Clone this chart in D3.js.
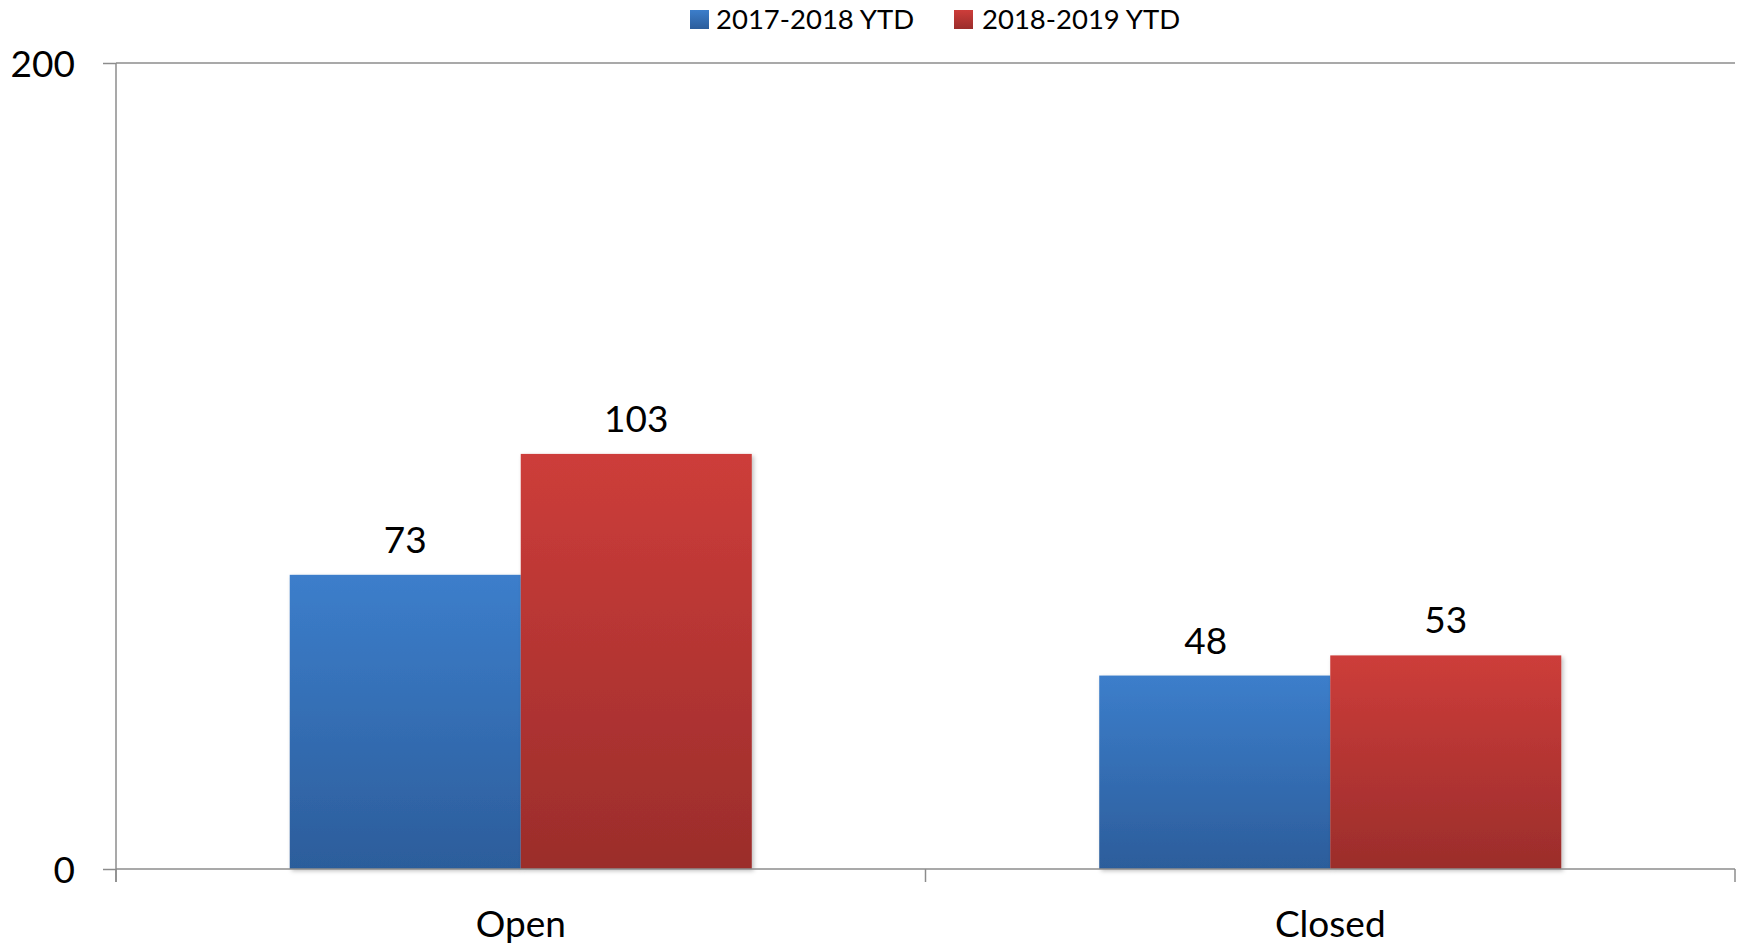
<!DOCTYPE html>
<html><head><meta charset="utf-8">
<script src="https://cdn.jsdelivr.net/npm/d3@7"></script>
<style>body{margin:0;background:#fff}svg{display:block}text{font-family:Lato,"Open Sans",sans-serif;fill:#000}</style>
</head><body>
<svg id="c" width="1740" height="945"></svg>
<script>
const categories = ["Open", "Closed"];
const seriesNames = ["2017-2018 YTD", "2018-2019 YTD"];
const values2017 = [73, 48];
const values2018 = [103, 53];
const yTicks = [0, 200];

const seriesValues = [values2017, values2018];
const colors = [["#3C7ECB", "#2C5D9B"], ["#CD3D3A", "#9B2D2B"]];

const svg = d3.select("#c");
const pLeft = 116, pRight = 1735, pTop = 63, pBottom = 869;

const defs = svg.append("defs");
colors.forEach((c, i) => {
  const g = defs.append("linearGradient").attr("id", "g" + i).attr("x1", 0).attr("y1", 0).attr("x2", 0).attr("y2", 1);
  g.append("stop").attr("offset", "0%").attr("stop-color", c[0]);
  g.append("stop").attr("offset", "100%").attr("stop-color", c[1]);
});
const f = defs.append("filter").attr("id", "sh").attr("x", "-5%").attr("y", "-5%").attr("width", "115%").attr("height", "115%");
f.append("feDropShadow").attr("dx", 2).attr("dy", 2).attr("stdDeviation", 2).attr("flood-color", "#000").attr("flood-opacity", 0.25);

const x0 = d3.scaleBand().domain(categories).range([pLeft, pRight]).padding(0);
const x1 = d3.scaleBand().domain(seriesNames).range([0, x0.bandwidth()]).paddingInner(0).paddingOuter(0.752);
const y = d3.scaleLinear().domain([0, 200]).range([pBottom, pTop]);

// gridline at top
svg.append("line").attr("x1", pLeft).attr("x2", pRight).attr("y1", y(200)).attr("y2", y(200))
  .attr("stroke", "#8c8c8c").attr("stroke-width", 1.5);

// bars
const data = [];
categories.forEach((c, ci) => seriesNames.forEach((s, si) => data.push({c, s, si, v: seriesValues[si][ci]})));
svg.append("g").selectAll("rect").data(data).join("rect")
  .attr("x", d => x0(d.c) + x1(d.s))
  .attr("y", d => y(d.v))
  .attr("width", x1.bandwidth())
  .attr("height", d => y(0) - y(d.v))
  .attr("fill", d => `url(#g${d.si})`)
  .attr("filter", "url(#sh)");

svg.append("g").selectAll("text").data(data).join("text")
  .attr("x", d => x0(d.c) + x1(d.s) + x1.bandwidth() / 2 - (d.v === 48 ? 9 : 0))
  .attr("y", d => y(d.v) - 22)
  .attr("text-anchor", "middle")
  .style("font-size", "37px")
  .text(d => d.v);

// y axis
const yAxis = svg.append("g").attr("transform", `translate(${pLeft},0)`)
  .call(d3.axisLeft(y).tickValues(yTicks).tickSize(13).tickPadding(28).tickFormat(d3.format("d")));
yAxis.select(".domain").attr("stroke", "#8c8c8c").attr("stroke-width", 1.5).attr("d", `M0,${pTop}V${pBottom + 13}`);
yAxis.selectAll(".tick line").attr("stroke", "#8c8c8c").attr("stroke-width", 1.5);
yAxis.selectAll(".tick text").style("font-size", "37px").style("font-family", "Lato").attr("fill", "#000").attr("dy", "0.36em");

// x axis
const xg = svg.append("g");
xg.append("line").attr("x1", pLeft).attr("x2", pRight).attr("y1", pBottom).attr("y2", pBottom)
  .attr("stroke", "#8c8c8c").attr("stroke-width", 1.5);
const boundaries = categories.map(c => x0(c)).concat([x0(categories[categories.length - 1]) + x0.bandwidth()]);
xg.selectAll("line.t").data(boundaries).join("line").attr("class", "t")
  .attr("x1", d => d).attr("x2", d => d).attr("y1", pBottom).attr("y2", pBottom + 13)
  .attr("stroke", "#8c8c8c").attr("stroke-width", 1.5);
xg.selectAll("text").data(categories).join("text")
  .attr("x", d => x0(d) + x0.bandwidth() / 2)
  .attr("y", 937)
  .attr("text-anchor", "middle")
  .style("font-size", "37px")
  .text(d => d);

// legend
const legendX = [690, 954];
const lg = svg.append("g").selectAll("g").data(seriesNames).join("g")
  .attr("transform", (d, i) => `translate(${legendX[i]},0)`);
lg.append("rect").attr("x", 0).attr("y", 10).attr("width", 19).attr("height", 19).attr("fill", (d, i) => `url(#g${i})`);
lg.append("text").attr("x", (d, i) => i === 0 ? 26 : 28).attr("y", 28.5).style("font-size", "27.5px").text(d => d);
</script>
</body></html>
